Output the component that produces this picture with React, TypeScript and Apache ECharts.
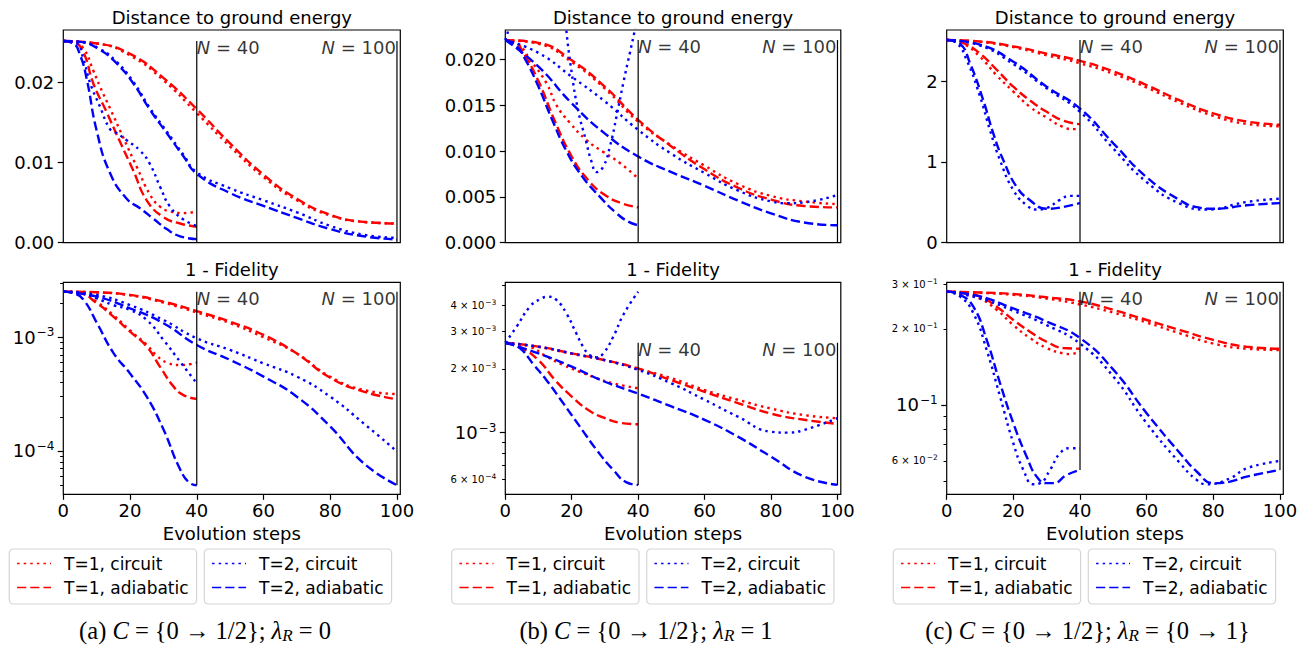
import React, { useEffect, useRef } from 'react';
import * as echarts from 'echarts';

type Pt = [number, number];

/* ---------------- tick labels ---------------- */
const X_TICKS = [0, 20, 40, 60, 80, 100];
const A_E_TICKS = [0, 0.01, 0.02];
const B_E_TICKS = [0, 0.005, 0.01, 0.015, 0.02];
const C_E_TICKS = [0, 1, 2];
const A_F_MAJOR = [1e-4, 1e-3];
const A_F_LABELED_MINOR: number[] = [];
const A_F_MINOR = [5e-5, 6e-5, 7e-5, 8e-5, 9e-5, 2e-4, 3e-4, 4e-4, 5e-4, 6e-4, 7e-4, 8e-4, 9e-4, 2e-3, 3e-3];
const B_F_MAJOR = [1e-3];
const B_F_LABELED_MINOR = [6e-4, 2e-3, 3e-3, 4e-3];
const B_F_MINOR = [6e-4, 7e-4, 8e-4, 9e-4, 2e-3, 3e-3, 4e-3, 5e-3];
const C_F_MAJOR = [1e-1];
const C_F_LABELED_MINOR = [6e-2, 2e-1, 3e-1];
const C_F_MINOR = [5e-2, 6e-2, 7e-2, 8e-2, 9e-2, 2e-1, 3e-1];

/* ---------------- axis ranges ---------------- */
const A_E_RANGE: Pt = [0, 0.02658];
const A_F_RANGE: Pt = [4.157e-5, 3.047e-3];
const B_E_RANGE: Pt = [0, 0.0232];
const B_F_RANGE: Pt = [5.11e-4, 5.138e-3];
const C_E_RANGE: Pt = [0, 2.632];
const C_F_RANGE: Pt = [0.04427, 0.306];

/* ---------------- categories / names ---------------- */
const NAMES = ['T=1, circuit', 'T=1, adiabatic', 'T=2, circuit', 'T=2, adiabatic'];
const LEGEND_GROUPS = [['T=1, circuit', 'T=1, adiabatic'], ['T=2, circuit', 'T=2, adiabatic']];
const TITLES = ['Distance to ground energy', '1 - Fidelity'];
const N_VALUES = [40, 100];
const AXIS_NAME = 'Evolution steps';
const CAPTIONS = [
  '(a) {i|C} = {0 → 1/2}; {i|λ}{s|R} = 0',
  '(b) {i|C} = {0 → 1/2}; {i|λ}{s|R} = 1',
  '(c) {i|C} = {0 → 1/2}; {i|λ}{s|R} = {0 → 1}',
];

/* ---------------- vertical marker lines [low, high] ---------------- */
const A_E_VLINE: Pt = [0, 0.0252];
const A_F_VLINE: Pt = [5.0e-5, 2.52e-3];
const B_E_VLINE: Pt = [0, 0.0221];
const B_F_VLINE: Pt = [5.66e-4, 2.66e-3];
const C_E_VLINE: Pt = [0, 2.508];
const C_F_VLINE: Pt = [0.0553, 0.281];

/* ---------------- panel (a): energy ---------------- */
const A_E_T1_CIRC_40: Pt[] = [[0, .0252], [3, .0251], [6, .0243], [9, .0215], [11, .0195], [14, .0168], [18, .0131], [22, .0095], [26, .0060], [29, .0045], [32, .0039], [36, .0037], [40, .0039]];
const A_E_T1_ADIA_40: Pt[] = [[0, .0252], [3, .0251], [6, .0238], [9, .0199], [13, .0163], [17, .0126], [21, .0090], [25, .0053], [30, .0032], [35, .0024], [40, .0020]];
const A_E_T2_CIRC_40: Pt[] = [[0, .0252], [4, .0249], [6, .0230], [8, .0200], [11, .0170], [14, .0142], [16, .0137], [19, .0128], [23, .0115], [26, .0098], [29, .0070], [32, .0045], [36, .0029], [40, .0021]];
const A_E_T2_ADIA_40: Pt[] = [[0, .0252], [3, .0249], [5, .0235], [7, .0205], [10, .0140], [14, .0087], [19, .0055], [23, .0043], [27, .0030], [31, .0017], [35, .0008], [40, .00045]];
const A_E_T1_CIRC_100: Pt[] = [[0, .0252], [10, .0249], [20, .0234], [30, .0203], [40, .0162], [50, .0120], [60, .0082], [70, .0053], [80, .0034], [90, .0026], [100, .0024]];
const A_E_T1_ADIA_100: Pt[] = [[0, .0252], [10, .0249], [20, .0236], [30, .0206], [40, .0167], [50, .0124], [60, .0085], [70, .0055], [80, .0035], [90, .0026], [100, .0024]];
const A_E_T2_CIRC_100: Pt[] = [[0, .0252], [5, .0251], [11, .0242], [16, .0226], [21, .0201], [26, .0168], [31, .0139], [36, .0110], [40, .0088], [50, .0068], [60, .0053], [70, .0038], [80, .0021], [90, .0010], [100, .0006]];
const A_E_T2_ADIA_100: Pt[] = [[0, .0252], [5, .0251], [11, .0241], [16, .0224], [21, .0199], [26, .0166], [31, .0137], [36, .0108], [40, .0086], [50, .0062], [60, .0046], [70, .0031], [80, .0017], [90, .0008], [100, .0004]];

/* ---------------- panel (a): 1 - fidelity ---------------- */
const A_F_T1_CIRC_40: Pt[] = [[0, 2.52e-3], [5, 2.46e-3], [10, 2.05e-3], [15, 1.57e-3], [20, 1.15e-3], [25, 8.6e-4], [28, 6.9e-4], [31, 6.0e-4], [35, 5.7e-4], [38, 5.8e-4], [40, 6.0e-4]];
const A_F_T1_ADIA_40: Pt[] = [[0, 2.52e-3], [5, 2.45e-3], [10, 2.0e-3], [15, 1.52e-3], [20, 1.12e-3], [25, 8.3e-4], [29, 5.5e-4], [33, 3.7e-4], [36, 3.1e-4], [40, 2.87e-4]];
const A_F_T2_CIRC_40: Pt[] = [[0, 2.52e-3], [5, 2.47e-3], [10, 2.2e-3], [15, 1.92e-3], [20, 1.74e-3], [25, 1.42e-3], [30, 9.5e-4], [35, 6.1e-4], [40, 3.94e-4]];
const A_F_T2_ADIA_40: Pt[] = [[0, 2.52e-3], [3, 2.45e-3], [6, 2.15e-3], [10, 1.35e-3], [15, 7.3e-4], [20, 4.8e-4], [25, 3.0e-4], [30, 1.55e-4], [35, 6.9e-5], [38, 5.2e-5], [40, 5.0e-5]];
const A_F_T1_CIRC_100: Pt[] = [[0, 2.52e-3], [10, 2.48e-3], [20, 2.34e-3], [30, 2.02e-3], [40, 1.65e-3], [50, 1.33e-3], [60, 1.0e-3], [70, 7.2e-4], [80, 4.5e-4], [90, 3.44e-4], [100, 3.17e-4]];
const A_F_T1_ADIA_100: Pt[] = [[0, 2.52e-3], [10, 2.49e-3], [20, 2.36e-3], [30, 2.06e-3], [40, 1.70e-3], [50, 1.37e-3], [60, 1.05e-3], [70, 7.2e-4], [80, 4.4e-4], [90, 3.33e-4], [100, 2.85e-4]];
const A_F_T2_CIRC_100: Pt[] = [[0, 2.52e-3], [10, 2.36e-3], [20, 1.92e-3], [30, 1.42e-3], [40, 9.8e-4], [50, 7.74e-4], [60, 5.9e-4], [70, 4.51e-4], [80, 3.0e-4], [90, 1.75e-4], [100, 9.9e-5]];
const A_F_T2_ADIA_100: Pt[] = [[0, 2.52e-3], [10, 2.28e-3], [20, 1.80e-3], [30, 1.33e-3], [40, 8.56e-4], [50, 6.32e-4], [60, 4.51e-4], [70, 3.0e-4], [80, 1.64e-4], [90, 7.8e-5], [100, 5.0e-5]];

/* ---------------- panel (b): energy ---------------- */
const B_E_T1_CIRC_40: Pt[] = [[0, .0221], [4, .0216], [7.4, .0200], [12.4, .0174], [15.4, .0150], [19.4, .0131], [24.4, .0112], [29.5, .0099], [34.5, .0087], [40, .0070]];
const B_E_T1_ADIA_40: Pt[] = [[0, .0221], [3, .0219], [5, .0210], [10, .0176], [15, .0132], [20, .0094], [25, .0068], [30, .0052], [35, .0043], [40, .00385]];
const B_E_T2_CIRC_40: Pt[] = [[0, .0221], [1, .0234], [5, .0320], [10, .0390], [13, .0400], [16, .0330], [18, .0245], [20, .0185], [22, .0143], [24, .0115], [26, .0088], [27.5, .0077], [29.5, .0083], [31.5, .0105], [33.5, .0138], [35.5, .0174], [37.5, .0207], [39, .0232], [40, .0250]];
const B_E_T2_ADIA_40: Pt[] = [[0, .0221], [3, .0216], [6, .0200], [10, .0170], [14, .0135], [18.4, .0100], [23, .0073], [28.5, .0050], [33.5, .0032], [37, .0023], [40, .0019]];
const B_E_T1_CIRC_100: Pt[] = [[0, .0221], [10, .0217], [20, .0197], [30, .0168], [40, .0132], [50, .0106], [60, .0084], [70, .0064], [80, .0051], [90, .0045], [100, .0042]];
const B_E_T1_ADIA_100: Pt[] = [[0, .0221], [10, .0218], [20, .0199], [30, .0170], [40, .0134], [50, .0105], [60, .0080], [70, .0060], [80, .0047], [90, .0040], [100, .00385]];
const B_E_T2_CIRC_100: Pt[] = [[0, .0221], [10, .0207], [20, .0181], [30, .0154], [40, .0123], [50, .0097], [60, .0076], [70, .0057], [80, .0045], [85, .0043], [90, .0044], [100, .0052]];
const B_E_T2_ADIA_100: Pt[] = [[0, .0221], [10, .0192], [20, .0152], [30, .0119], [40, .0094], [50, .0077], [60, .0062], [70, .0046], [80, .0032], [90, .0022], [100, .0019]];

/* ---------------- panel (b): 1 - fidelity ---------------- */
const B_F_T1_CIRC_40: Pt[] = [[0, 2.66e-3], [3, 2.63e-3], [7.4, 2.55e-3], [12.4, 2.29e-3], [17.4, 2.09e-3], [22.4, 1.94e-3], [27.5, 1.81e-3], [32.5, 1.71e-3], [40, 1.62e-3]];
const B_F_T1_ADIA_40: Pt[] = [[0, 2.66e-3], [5, 2.5e-3], [10, 2.2e-3], [15, 1.77e-3], [20, 1.48e-3], [25, 1.28e-3], [30, 1.17e-3], [35, 1.11e-3], [40, 1.095e-3]];
const B_F_T2_CIRC_40: Pt[] = [[0, 2.66e-3], [3.4, 3.17e-3], [7.4, 3.94e-3], [10.4, 4.27e-3], [13, 4.39e-3], [15.4, 4.24e-3], [18.4, 3.66e-3], [21.4, 2.94e-3], [23.4, 2.55e-3], [25.4, 2.33e-3], [27.5, 2.27e-3], [29.5, 2.37e-3], [32.5, 2.84e-3], [35.5, 3.6e-3], [40, 4.64e-3]];
const B_F_T2_ADIA_40: Pt[] = [[0, 2.66e-3], [2.5, 2.6e-3], [5, 2.46e-3], [8.5, 2.1e-3], [12.4, 1.77e-3], [17.4, 1.38e-3], [22.4, 1.07e-3], [27.5, 8.28e-4], [32.5, 6.66e-4], [36.5, 5.82e-4], [40, 5.66e-4]];
const B_F_T1_CIRC_100: Pt[] = [[0, 2.66e-3], [10, 2.54e-3], [20, 2.36e-3], [30, 2.2e-3], [40, 2.0e-3], [50, 1.81e-3], [60, 1.59e-3], [70, 1.43e-3], [80, 1.30e-3], [90, 1.21e-3], [100, 1.17e-3]];
const B_F_T1_ADIA_100: Pt[] = [[0, 2.66e-3], [10, 2.55e-3], [20, 2.37e-3], [30, 2.2e-3], [40, 2.01e-3], [50, 1.77e-3], [60, 1.56e-3], [70, 1.38e-3], [80, 1.23e-3], [90, 1.15e-3], [100, 1.10e-3]];
const B_F_T2_CIRC_100: Pt[] = [[0, 2.66e-3], [10, 2.55e-3], [20, 2.37e-3], [30, 2.2e-3], [40, 1.98e-3], [50, 1.71e-3], [60, 1.43e-3], [70, 1.19e-3], [80, 1.01e-3], [85, 1.0e-3], [90, 1.03e-3], [100, 1.17e-3]];
const B_F_T2_ADIA_100: Pt[] = [[0, 2.66e-3], [10, 2.37e-3], [20, 2.05e-3], [30, 1.74e-3], [40, 1.53e-3], [50, 1.33e-3], [60, 1.15e-3], [70, 9.57e-4], [80, 7.7e-4], [90, 6.2e-4], [100, 5.66e-4]];

/* ---------------- panel (c): energy ---------------- */
const C_E_T1_CIRC_40: Pt[] = [[0, 2.508], [5, 2.46], [10, 2.30], [15, 2.07], [20, 1.87], [25, 1.68], [30, 1.55], [35, 1.43], [38, 1.405], [40, 1.41]];
const C_E_T1_ADIA_40: Pt[] = [[0, 2.508], [5, 2.47], [10, 2.34], [15, 2.14], [20, 1.93], [25, 1.76], [30, 1.62], [35, 1.51], [40, 1.467]];
const C_E_T2_CIRC_40: Pt[] = [[0, 2.508], [3, 2.47], [6, 2.26], [10, 1.81], [13, 1.39], [16, 1.02], [20, 0.65], [24, 0.463], [27, 0.41], [30, 0.43], [34, 0.53], [37, 0.58], [40, 0.58]];
const C_E_T2_ADIA_40: Pt[] = [[0, 2.508], [4, 2.46], [7, 2.22], [11, 1.76], [14, 1.35], [17, 1.02], [21, 0.69], [25, 0.525], [30, 0.42], [34, 0.434], [40, 0.49]];
const C_E_T1_CIRC_100: Pt[] = [[0, 2.508], [10, 2.485], [20, 2.42], [30, 2.32], [40, 2.22], [50, 2.09], [60, 1.92], [70, 1.73], [80, 1.57], [90, 1.47], [100, 1.44]];
const C_E_T1_ADIA_100: Pt[] = [[0, 2.508], [10, 2.49], [20, 2.43], [30, 2.34], [40, 2.25], [50, 2.12], [60, 1.95], [70, 1.76], [80, 1.60], [90, 1.50], [100, 1.46]];
const C_E_T2_CIRC_100: Pt[] = [[0, 2.508], [10, 2.44], [20, 2.21], [30, 1.91], [40, 1.62], [50, 1.165], [60, 0.75], [70, 0.483], [78, 0.41], [90, 0.504], [100, 0.545]];
const C_E_T2_ADIA_100: Pt[] = [[0, 2.508], [10, 2.45], [20, 2.24], [30, 1.93], [40, 1.66], [50, 1.23], [60, 0.81], [70, 0.525], [75, 0.44], [80, 0.42], [90, 0.463], [100, 0.49]];

/* ---------------- panel (c): 1 - fidelity ---------------- */
const C_F_T1_CIRC_40: Pt[] = [[0, .281], [5, .276], [10, .264], [15, .238], [20, .207], [25, .184], [30, .168], [35, .160], [37, .159], [40, .163]];
const C_F_T1_ADIA_40: Pt[] = [[0, .281], [5, .277], [10, .269], [15, .245], [20, .217], [25, .195], [30, .178], [35, .168], [40, .167]];
const C_F_T2_CIRC_40: Pt[] = [[0, .281], [4, .269], [8, .231], [12, .165], [16, .108], [20, .0705], [23, .0553], [26, .0485], [28, .049], [31, .0553], [34, .0644], [37, .0674], [40, .0674]];
const C_F_T2_ADIA_40: Pt[] = [[0, .281], [4, .273], [8, .245], [12, .181], [16, .122], [20, .0846], [24, .0624], [27, .052], [30, .049], [32, .049], [36, .0528], [40, .0553]];
const C_F_T1_CIRC_100: Pt[] = [[0, .281], [10, .278], [20, .273], [30, .264], [40, .250], [50, .232], [60, .212], [70, .192], [80, .175], [90, .167], [100, .165]];
const C_F_T1_ADIA_100: Pt[] = [[0, .281], [10, .279], [20, .275], [30, .267], [40, .257], [50, .238], [60, .217], [70, .198], [80, .181], [90, .170], [100, .167]];
const C_F_T2_CIRC_100: Pt[] = [[0, .281], [10, .264], [20, .236], [30, .207], [40, .175], [50, .1295], [60, .0846], [70, .0588], [75, .0505], [78, .0485], [85, .0512], [90, .0561], [100, .060]];
const C_F_T2_ADIA_100: Pt[] = [[0, .281], [10, .269], [20, .241], [30, .214], [40, .184], [50, .138], [60, .0927], [70, .0644], [75, .0545], [80, .049], [85, .0497], [90, .052], [100, .0553]];

/* ---------------- styling / layout ---------------- */
const FONT = 'DejaVu Sans';
const SERIF = 'Liberation Serif';
const FS = 18;
const RED = '#ff0000';
const BLUE = '#0000ff';
const DOT = [2.5, 4.1];
const DASH = [9.2, 4];
const STYLE: Record<string, { color: string; dash: number[] }> = {
  'T=1, circuit': { color: RED, dash: DOT },
  'T=1, adiabatic': { color: RED, dash: DASH },
  'T=2, circuit': { color: BLUE, dash: DOT },
  'T=2, adiabatic': { color: BLUE, dash: DASH },
};
const ROWS = [
  { top: 30, height: 212.7, titleY: 17 },
  { top: 282.3, height: 212, titleY: 269.5 },
];

interface Metric {
  log: boolean; range: Pt; ticks: number[]; labeled: number[]; minor: number[]; decimals: number;
  vline: Pt; curves: [string, Pt[], Pt[]][];
}
interface Panel { left: number; width: number; legends: number[]; capX: number; caption: string; metrics: Metric[] }

const PANELS: Panel[] = [
  {
    left: 63.3, width: 337, legends: [9.3, 204.3], capX: 205, caption: CAPTIONS[0],
    metrics: [
      { log: false, range: A_E_RANGE, ticks: A_E_TICKS, labeled: [], minor: [], decimals: 2, vline: A_E_VLINE,
        curves: [[NAMES[0], A_E_T1_CIRC_40, A_E_T1_CIRC_100], [NAMES[1], A_E_T1_ADIA_40, A_E_T1_ADIA_100], [NAMES[2], A_E_T2_CIRC_40, A_E_T2_CIRC_100], [NAMES[3], A_E_T2_ADIA_40, A_E_T2_ADIA_100]] },
      { log: true, range: A_F_RANGE, ticks: A_F_MAJOR, labeled: A_F_LABELED_MINOR, minor: A_F_MINOR, decimals: 0, vline: A_F_VLINE,
        curves: [[NAMES[0], A_F_T1_CIRC_40, A_F_T1_CIRC_100], [NAMES[1], A_F_T1_ADIA_40, A_F_T1_ADIA_100], [NAMES[2], A_F_T2_CIRC_40, A_F_T2_CIRC_100], [NAMES[3], A_F_T2_ADIA_40, A_F_T2_ADIA_100]] },
    ],
  },
  {
    left: 505.3, width: 335.5, legends: [451.7, 646.7], capX: 646, caption: CAPTIONS[1],
    metrics: [
      { log: false, range: B_E_RANGE, ticks: B_E_TICKS, labeled: [], minor: [], decimals: 3, vline: B_E_VLINE,
        curves: [[NAMES[0], B_E_T1_CIRC_40, B_E_T1_CIRC_100], [NAMES[1], B_E_T1_ADIA_40, B_E_T1_ADIA_100], [NAMES[2], B_E_T2_CIRC_40, B_E_T2_CIRC_100], [NAMES[3], B_E_T2_ADIA_40, B_E_T2_ADIA_100]] },
      { log: true, range: B_F_RANGE, ticks: B_F_MAJOR, labeled: B_F_LABELED_MINOR, minor: B_F_MINOR, decimals: 0, vline: B_F_VLINE,
        curves: [[NAMES[0], B_F_T1_CIRC_40, B_F_T1_CIRC_100], [NAMES[1], B_F_T1_ADIA_40, B_F_T1_ADIA_100], [NAMES[2], B_F_T2_CIRC_40, B_F_T2_CIRC_100], [NAMES[3], B_F_T2_ADIA_40, B_F_T2_ADIA_100]] },
    ],
  },
  {
    left: 946.7, width: 336.6, legends: [893.3, 1088.3], capX: 1087.5, caption: CAPTIONS[2],
    metrics: [
      { log: false, range: C_E_RANGE, ticks: C_E_TICKS, labeled: [], minor: [], decimals: 0, vline: C_E_VLINE,
        curves: [[NAMES[0], C_E_T1_CIRC_40, C_E_T1_CIRC_100], [NAMES[1], C_E_T1_ADIA_40, C_E_T1_ADIA_100], [NAMES[2], C_E_T2_CIRC_40, C_E_T2_CIRC_100], [NAMES[3], C_E_T2_ADIA_40, C_E_T2_ADIA_100]] },
      { log: true, range: C_F_RANGE, ticks: C_F_MAJOR, labeled: C_F_LABELED_MINOR, minor: C_F_MINOR, decimals: 0, vline: C_F_VLINE,
        curves: [[NAMES[0], C_F_T1_CIRC_40, C_F_T1_CIRC_100], [NAMES[1], C_F_T1_ADIA_40, C_F_T1_ADIA_100], [NAMES[2], C_F_T2_CIRC_40, C_F_T2_CIRC_100], [NAMES[3], C_F_T2_ADIA_40, C_F_T2_ADIA_100]] },
    ],
  },
];

function logLabel(lv: number): string {
  const e = Math.floor(lv + 1e-6);
  const m = Math.round(Math.pow(10, lv - e));
  const exp = '−' + Math.abs(e);
  if (m === 1) return `{big|10}{bsup|${exp}}`;
  return `{sm|${m} × 10}{ssup|${exp}}`;
}

const LOG_RICH = {
  big: { fontSize: FS, fontFamily: FONT, color: '#000', verticalAlign: 'middle' },
  bsup: { fontSize: 12, fontFamily: FONT, color: '#000', padding: [0, 0, 10, 1], verticalAlign: 'middle' },
  sm: { fontSize: 10, fontFamily: FONT, color: '#000', verticalAlign: 'middle' },
  ssup: { fontSize: 7.5, fontFamily: FONT, color: '#000', padding: [0, 0, 6, 1], verticalAlign: 'middle' },
};

function buildOption() {
  const grid: any[] = [];
  const xAxis: any[] = [];
  const yAxis: any[] = [];
  const series: any[] = [];
  const legend: any[] = [];
  const graphic: any[] = [];

  PANELS.forEach((p) => {
    p.metrics.forEach((m, ri) => {
      const g = grid.length;
      const row = ROWS[ri];
      const isBottom = ri === 1;
      const tf = (v: number) => (m.log ? Math.log10(v) : v);
      grid.push({
        left: p.left, top: row.top, width: p.width, height: row.height,
        show: true, borderColor: '#000', borderWidth: 1.2, backgroundColor: 'transparent',
        containLabel: false, outerBoundsMode: 'none',
      });
      xAxis.push({
        gridIndex: g, type: 'value', min: 0, max: 101,
        axisLine: { show: false },
        axisTick: { show: isBottom, customValues: X_TICKS, length: 5.5, lineStyle: { color: '#000', width: 1.2 } },
        axisLabel: { show: isBottom, customValues: X_TICKS, margin: 7, fontSize: FS, color: '#000', fontFamily: FONT },
        splitLine: { show: false },
        name: isBottom ? AXIS_NAME : '', nameLocation: 'middle', nameGap: 30,
        nameTextStyle: { fontSize: FS, color: '#000', fontFamily: FONT },
      });
      const yMain = yAxis.length;
      const labelVals = m.log ? [...m.ticks, ...m.labeled].map(Math.log10) : m.ticks;
      yAxis.push({
        gridIndex: g, type: 'value', min: tf(m.range[0]), max: tf(m.range[1]),
        axisLine: { show: false },
        axisTick: { show: true, customValues: m.log ? m.ticks.map(Math.log10) : m.ticks, length: 5.5, lineStyle: { color: '#000', width: 1.2 } },
        axisLabel: {
          show: true, customValues: labelVals, margin: 9, fontSize: FS, color: '#000', fontFamily: FONT,
          formatter: (v: number) => (m.log ? logLabel(v) : v.toFixed(m.decimals)),
          rich: m.log ? LOG_RICH : undefined,
        },
        splitLine: { show: false },
      });
      if (m.log) {
        yAxis.push({
          gridIndex: g, type: 'value', position: 'left', offset: 0, min: tf(m.range[0]), max: tf(m.range[1]),
          axisLine: { show: false },
          axisTick: { show: true, customValues: m.minor.map(Math.log10), length: 3.2, lineStyle: { color: '#000', width: 1 } },
          axisLabel: { show: false },
          splitLine: { show: false },
        });
      }
      m.curves.forEach(([name, d40, d100]) => {
        [d40, d100].forEach((d) => {
          const st = STYLE[name];
          series.push({
            type: 'line', name, xAxisIndex: g, yAxisIndex: yMain,
            data: d.map(([x, y]) => [x, tf(y)]),
            symbol: 'none', smooth: 0.5, clip: true, silent: true,
            lineStyle: { color: st.color, width: 2.4, type: st.dash, cap: 'butt' },
            itemStyle: { color: st.color },
            z: 2,
          });
        });
      });
      N_VALUES.forEach((n) => {
        series.push({
          type: 'line', xAxisIndex: g, yAxisIndex: yMain, silent: true, symbol: 'none',
          data: [[n, tf(m.vline[0])], [n, tf(m.vline[1])]],
          lineStyle: { color: '#000', width: 1.2 }, z: 3,
        });
      });
      series.push({
        type: 'scatter', xAxisIndex: g, yAxisIndex: yMain, silent: true, symbolSize: 2,
        itemStyle: { color: 'rgba(0,0,0,0)' }, z: 5,
        data: N_VALUES.map((n, i) => ({
          value: [n, tf(m.vline[1])],
          label: {
            show: true, formatter: `{it|N} = ${n}`,
            position: i === 0 ? [1, -1.5] : [0, -1.5], align: i === 0 ? 'left' : 'right', verticalAlign: 'top',
            fontSize: FS, color: '#000', fontFamily: FONT,
            rich: { it: { fontStyle: 'italic', fontSize: FS, fontFamily: FONT, color: '#000' } },
          },
        })),
      });
      graphic.push({
        type: 'text', x: p.left + p.width / 2, y: row.titleY, silent: true,
        style: { text: TITLES[ri], fontSize: FS, fontFamily: FONT, fill: '#000', align: 'center', verticalAlign: 'middle' },
      });
    });
    LEGEND_GROUPS.forEach((grp, k) => {
      legend.push({
        data: grp, orient: 'vertical', left: p.legends[k], top: 549,
        itemWidth: 34, itemHeight: 14, itemGap: 7, padding: [6, 8, 8, 7],
        borderColor: '#d5d5d5', borderWidth: 1.2, borderRadius: 4, backgroundColor: '#fff',
        selectedMode: false,
        textStyle: { fontSize: 17, color: '#000', fontFamily: FONT, padding: [0, 0, 0, 8] },
        lineStyle: { width: 1.5 },
        itemStyle: { opacity: 0 },
      });
    });
    graphic.push({
      type: 'text', x: p.capX, y: 630, silent: true,
      style: {
        text: p.caption, fontFamily: SERIF, fontSize: 24.5, fill: '#000', align: 'center', verticalAlign: 'middle',
        rich: {
          i: { fontStyle: 'italic', fontFamily: SERIF, fontSize: 24.5, fill: '#000' },
          s: { fontStyle: 'italic', fontFamily: SERIF, fontSize: 17, fill: '#000', padding: [11, 0, 0, 0] },
        },
      },
    });
  });

  return {
    animation: false,
    backgroundColor: '#fff',
    textStyle: { fontFamily: FONT },
    grid, xAxis, yAxis, series, legend, graphic,
  };
}

export default function App() {
  const ref = useRef<HTMLDivElement>(null);
  useEffect(() => {
    if (!ref.current) return;
    const chart = echarts.init(ref.current, undefined, { renderer: 'svg' });
    chart.setOption(buildOption() as any);
    return () => chart.dispose();
  }, []);
  return <div ref={ref} style={{ position: 'absolute', left: 0, top: 0, width: 1309, height: 645 }} />;
}
